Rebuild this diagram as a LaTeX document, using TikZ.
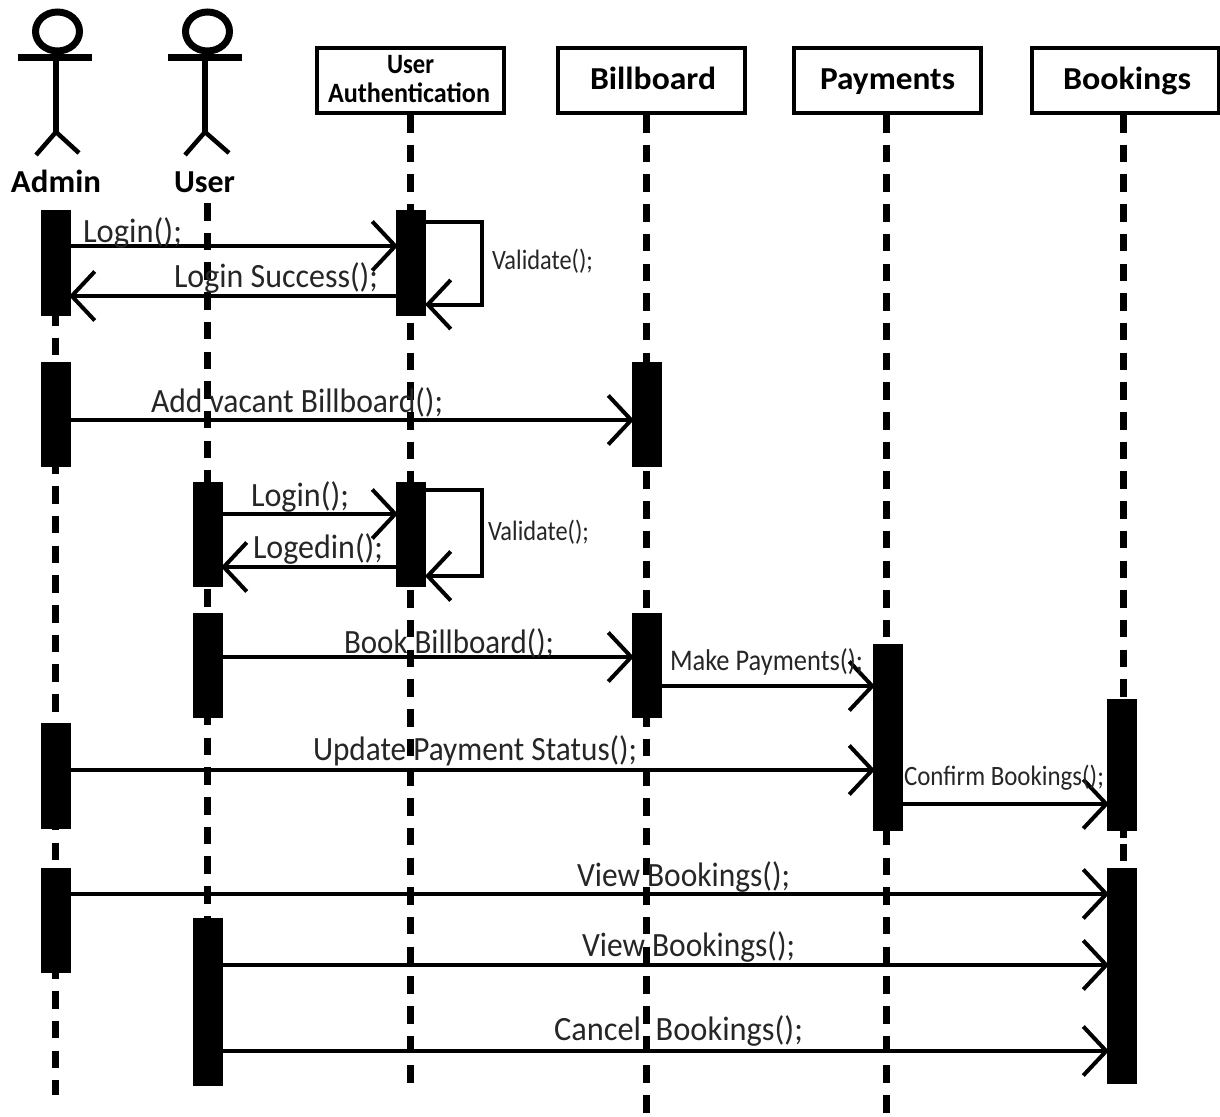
\documentclass[tikz,border=0pt]{standalone}
\usepackage{fontspec}
\usepackage{graphicx}
\setmainfont{Carlito}
\usetikzlibrary{arrows.meta,shapes.geometric}
\newcommand\fitw[2]{\resizebox{#1pt}{\height}{#2}}
\tikzset{
  x=1pt,y=-1pt,
  life/.style={line width=7pt,dash pattern=on 17.5pt off 12.2pt},
  bar/.style={draw=none,fill=black,minimum width=30pt,inner sep=0pt,outer sep=0pt},
  head/.style={draw,line width=4pt,fill=white,minimum width=187pt,minimum height=65pt,inner sep=0pt,outer sep=0pt},
  msg/.style={line width=4pt,-{Straight Barb[length=23pt,width=49pt,line width=4pt]},shorten >=-2pt},
  loop/.style={line width=4pt,-{Straight Barb[length=23pt,width=49pt,line width=4pt]},shorten >=-1pt,line join=miter},
  lab/.style={anchor=base west,inner sep=0pt,outer sep=0pt,font=\fontsize{34}{34}\selectfont,text=black!85},
  small/.style={anchor=base west,inner sep=0pt,outer sep=0pt,font=\fontsize{28}{28}\selectfont,text=black!85},
  bold/.style={anchor=base west,inner sep=0pt,outer sep=0pt,font=\fontsize{32}{32}\selectfont\bfseries},
  body/.style={line width=6pt},
  legs/.style={line width=4.5pt},
  arm/.style={line width=7.5pt},
  skull/.style={ellipse,draw,line width=7pt,minimum width=44pt,minimum height=39pt,inner sep=0pt},
}
\begin{document}
\begin{tikzpicture}
\useasboundingbox[fill=white] (0,0) rectangle (1220,1116);
% boxes
\node[head] (ua) at (410.5,80.5) {};
\node[head] (bb) at (651,80.5) {};
\node[head] (pay) at (887,80.5) {};
\node[head] (bk) at (1125,80.5) {};
% lifeline ends
\coordinate (aTop) at (55.5,308);
\coordinate (aEnd) at (55.5,1095);
\coordinate (uTop) at (207,203);
\coordinate (uEnd) at (207,1086);
\coordinate (uaS) at (410.5,115);
\coordinate (uaEnd) at (410.5,1084);
\coordinate (bbS) at (646.5,115);
\coordinate (bbEnd) at (646.5,1116);
\coordinate (payS) at (886.5,115);
\coordinate (payEnd) at (886.5,1116);
\coordinate (bkS) at (1123,115);
\coordinate (bkMid) at (1123,700);
\coordinate (bkLowA) at (1123,829);
\coordinate (bkLowB) at (1123,838);
\coordinate (bkLowC) at (1123,844);
\coordinate (bkLowD) at (1123,861);
\draw[life] (aTop) -- (aEnd);
\draw[life] (uTop) -- (uEnd);
\draw[life] (uaS) -- (uaEnd);
\draw[life] (bbS) -- (bbEnd);
\draw[life] (payS) -- (payEnd);
\draw[life] (bkS) -- (bkMid);
\draw[life] (bkLowA) -- (bkLowB) (bkLowC) -- (bkLowD);
% activation bars
\node[bar,minimum height=106pt] (a1) at (56,263) {};
\node[bar,minimum height=105pt] (a2) at (56,414.5) {};
\node[bar,minimum height=106pt] (a3) at (56,776) {};
\node[bar,minimum height=105pt] (a4) at (56,920.5) {};
\node[bar,minimum height=105pt] (u1) at (208,534.5) {};
\node[bar,minimum height=105pt] (u2) at (208,665.5) {};
\node[bar,minimum height=168pt] (u3) at (208,1002) {};
\node[bar,minimum height=106pt] (c1) at (411,263) {};
\node[bar,minimum height=105pt] (c2) at (411,534.5) {};
\node[bar,minimum height=105pt] (b1) at (647,414.5) {};
\node[bar,minimum height=105pt] (b2) at (647,665.5) {};
\node[bar,minimum height=187pt] (p1) at (888,737.5) {};
\node[bar,minimum height=132pt] (k1) at (1122,765) {};
\node[bar,minimum height=216pt] (k2) at (1122,976) {};
% messages
\draw[msg] (a1.east |- 0,246) -- (c1.west |- 0,246);
\draw[msg] (c1.west |- 0,296) -- (a1.east |- 0,296);
\draw[msg] (a2.east |- 0,420) -- (b1.west |- 0,420);
\draw[msg] (u1.east |- 0,514) -- (c2.west |- 0,514);
\draw[msg] (c2.west |- 0,567) -- (u1.east |- 0,567);
\draw[msg] (u2.east |- 0,657) -- (b2.west |- 0,657);
\draw[msg] (b2.east |- 0,686) -- (p1.west |- 0,686);
\draw[msg] (a3.east |- 0,770) -- (p1.west |- 0,770);
\draw[msg] (p1.east |- 0,804) -- (k1.west |- 0,804);
\draw[msg] (a4.east |- 0,894) -- (k2.west |- 0,894);
\draw[msg] (u3.east |- 0,965) -- (k2.west |- 0,965);
\draw[msg] (u3.east |- 0,1051) -- (k2.west |- 0,1051);
% self calls
\draw[loop] (c1.east |- 0,221.5) -| (482,304.5) -- (c1.east |- 0,304.5);
\draw[loop] (c2.east |- 0,490) -| (482,576) -- (c2.east |- 0,576);
% actors
\node[skull] (admHead) at (57.5,31.5) {};
\coordinate (admNeck) at (56,57);
\coordinate (admHip) at (56,132);
\coordinate (admArmL) at (18,57.5);
\coordinate (admArmR) at (92,57.5);
\coordinate (admLegL) at (36,155);
\coordinate (admLegR) at (79,153);
\draw[arm] (admArmL) -- (admArmR);
\draw[body] (admNeck) -- (admHip);
\draw[legs] (admLegL) -- (admHip) -- (admLegR);
\node[skull] (usrHead) at (207.5,31.5) {};
\coordinate (usrNeck) at (205,57);
\coordinate (usrHip) at (205,132);
\coordinate (usrArmL) at (168,57.5);
\coordinate (usrArmR) at (242,57.5);
\coordinate (usrLegL) at (185,155);
\coordinate (usrLegR) at (229,153);
\draw[arm] (usrArmL) -- (usrArmR);
\draw[body] (usrNeck) -- (usrHip);
\draw[legs] (usrLegL) -- (usrHip) -- (usrLegR);
% header text
\node[bold] (tAdmin) at (11,192) {\fitw{90}{Admin}};
\node[bold] (tUser) at (174,192) {\fitw{61}{User}};
\node[bold,font=\fontsize{28}{28}\selectfont\bfseries] (tUA1) at (387,73.5) {\fitw{47}{User}};
\node[bold,font=\fontsize{28}{28}\selectfont\bfseries] (tUA2) at (328,102.5) {\fitw{162}{Authentication}};
\node[bold] (tBB) at (590,89) {\fitw{126}{Billboard}};
\node[bold] (tPay) at (820,89) {\fitw{135}{Payments}};
\node[bold] (tBk) at (1063,89) {\fitw{128}{Bookings}};
% message labels
\node[lab] (m1) at (83,242) {\fitw{99}{Login();}};
\node[lab] (m2) at (174,287) {\fitw{204}{Login Success();}};
\node[small] (m3) at (492,269) {\fitw{101}{Validate();}};
\node[lab] (m4) at (151,412) {\fitw{292}{Add vacant Billboard();}};
\node[lab] (m5) at (251,506) {\fitw{98}{Login();}};
\node[lab] (m6) at (253,558) {\fitw{130}{Logedin();}};
\node[small] (m7) at (488,540) {\fitw{101}{Validate();}};
\node[lab] (m8) at (344,653) {\fitw{210}{Book Billboard();}};
\node[small,font=\fontsize{30}{30}\selectfont] (m9) at (670,670) {\fitw{193}{Make Payments();}};
\node[lab] (m10) at (313,760) {\fitw{324}{Update Payment Status();}};
\node[small] (m11) at (904,785) {\fitw{200}{Confirm Bookings();}};
\node[lab] (m12) at (577,886) {\fitw{213}{View Bookings();}};
\node[lab] (m13) at (582,956) {\fitw{213}{View Bookings();}};
\node[lab] (m14) at (554,1040) {\fitw{249}{Cancel\ \ Bookings();}};
\end{tikzpicture}
\end{document}
